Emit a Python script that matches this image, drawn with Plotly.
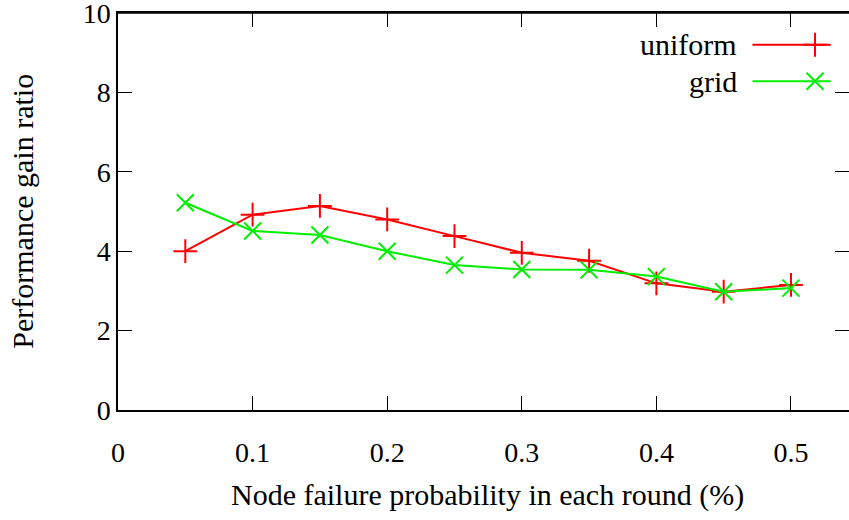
import plotly.graph_objects as go

x_vals = [0.05, 0.1, 0.15, 0.2, 0.25, 0.3, 0.35, 0.4, 0.45, 0.5]
uniform = [4.0, 4.92, 5.14, 4.8, 4.38, 3.96, 3.76, 3.19, 2.98, 3.15]
grid = [5.22, 4.51, 4.41, 4.0, 3.65, 3.54, 3.53, 3.36, 2.98, 3.07]
x_ticks = [0, 0.1, 0.2, 0.3, 0.4, 0.5]
y_ticks = [0, 2, 4, 6, 8, 10]
series_names = ["uniform", "grid"]
series_colors = ["#ff0000", "#00ee00"]
series_symbols = ["cross-thin-open", "x-thin-open"]

FONT = "Liberation Serif"
FS = 30
TFS = 28
XMAX = 0.5431

fig = go.Figure()
for nm, ys, col, sym in zip(series_names, [uniform, grid], series_colors, series_symbols):
    fig.add_trace(go.Scatter(x=x_vals, y=ys, mode="lines+markers", name=nm,
                             line=dict(color=col, width=2),
                             marker=dict(symbol=sym, size=17, color=col,
                                         line=dict(color=col, width=2)),
                             showlegend=False))

# custom gnuplot-style legend (key) in the top-right corner
for i, (nm, col, sym) in enumerate(zip(series_names, series_colors, series_symbols)):
    yy = 9.2 - i * 0.92
    fig.add_trace(go.Scatter(x=[0.868 * XMAX, 0.9535 * XMAX, 0.975 * XMAX], y=[yy, yy, yy],
                             mode="lines", line=dict(color=col, width=2), showlegend=False,
                             hoverinfo="skip"))
    fig.add_trace(go.Scatter(x=[0.9535 * XMAX], y=[yy],
                             mode="markers", marker=dict(symbol=sym, size=17, color=col,
                                                         line=dict(color=col, width=2)),
                             showlegend=False, hoverinfo="skip"))
    fig.add_annotation(x=0.85 * XMAX, y=yy, xref="x", yref="y", text=nm, showarrow=False,
                       xanchor="right", yanchor="middle", font=dict(family=FONT, size=FS, color="black"))

# invisible trace so the label-only axis x2 is drawn
fig.add_trace(go.Scatter(x=[x_ticks[0]], y=[y_ticks[0]], xaxis="x2", mode="markers",
                         marker=dict(opacity=0), showlegend=False, hoverinfo="skip"))

fig.add_annotation(x=0.505, y=-0.215, xref="paper", yref="paper",
                   text="Node failure probability in each round (%)", showarrow=False,
                   xanchor="center", yanchor="middle", font=dict(family=FONT, size=FS, color="black"))
fig.add_annotation(x=-0.131, y=0.5, xref="paper", yref="paper",
                   text="Performance gain ratio", showarrow=False, textangle=-90,
                   xanchor="center", yanchor="middle", font=dict(family=FONT, size=FS, color="black"))

# top border line
fig.add_shape(type="line", xref="paper", yref="paper", x0=0, x1=1, y0=1, y1=1,
              line=dict(color="black", width=1.5), layer="above")

fig.update_layout(
    width=849, height=520,
    margin=dict(l=118, r=0, t=13, b=110, autoexpand=False),
    paper_bgcolor="white", plot_bgcolor="white",
    font=dict(family=FONT, size=TFS, color="black"),
    xaxis=dict(range=[0, XMAX], tickvals=x_ticks, showticklabels=False,
               showgrid=False, zeroline=False, showline=True, linecolor="black", linewidth=1.5,
               mirror="ticks", ticks="inside", ticklen=14, tickcolor="black", tickwidth=1,
               automargin=False),
    xaxis2=dict(range=[0, XMAX], overlaying="x", side="bottom", anchor="y",
                tickvals=x_ticks, ticktext=[str(v) for v in x_ticks],
                showgrid=False, zeroline=False, showline=False,
                ticks="outside", ticklen=17, tickcolor="rgba(0,0,0,0)",
                automargin=False, tickfont=dict(family=FONT, size=TFS)),
    yaxis=dict(range=[0, 10], tickvals=y_ticks, ticksuffix="\u2009", showgrid=False, zeroline=False,
               showline=True, linecolor="black", linewidth=1.5,
               ticks="inside", ticklen=14, tickcolor="black", tickwidth=1,
               mirror="ticks", ticklabeloverflow="allow",
               automargin=False, tickfont=dict(family=FONT, size=TFS)),
)

fig.write_html("out.html")
